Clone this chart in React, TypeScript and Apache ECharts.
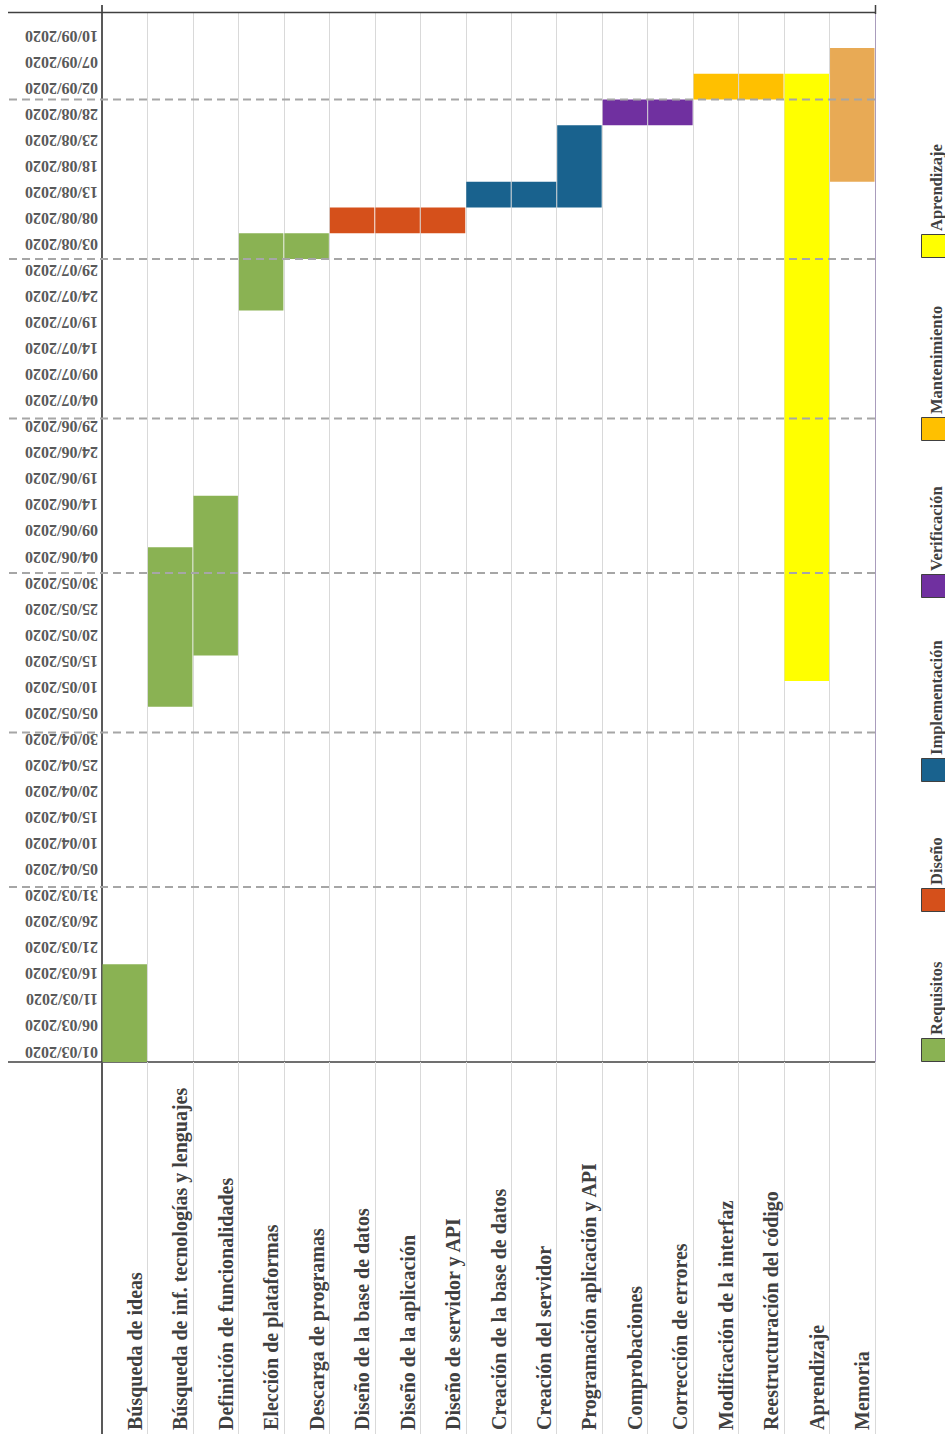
import React, { useEffect, useRef } from 'react';
import * as echarts from 'echarts';

// ---------- data ----------
const tasks = [
  'Búsqueda de ideas',
  'Búsqueda de inf. tecnologías y lenguajes',
  'Definición de funcionalidades',
  'Elección de plataformas',
  'Descarga de programas',
  'Diseño de la base de datos',
  'Diseño de la aplicación',
  'Diseño de servidor y API',
  'Creación de la base de datos',
  'Creación del servidor',
  'Programación aplicación y API',
  'Comprobaciones',
  'Corrección de errores',
  'Modificación de la interfaz',
  'Reestructuración del código',
  'Aprendizaje',
  'Memoria',
];
const taskPhases = [
  'Requisitos', 'Requisitos', 'Requisitos', 'Requisitos', 'Requisitos',
  'Diseño', 'Diseño', 'Diseño',
  'Implementación', 'Implementación', 'Implementación',
  'Verificación', 'Verificación',
  'Mantenimiento', 'Mantenimiento',
  'Aprendizaje',
  'Memoria',
];
const taskStarts = [
  '2020-02-27', '2020-05-06', '2020-05-16', '2020-07-22', '2020-08-01',
  '2020-08-06', '2020-08-06', '2020-08-06',
  '2020-08-11', '2020-08-11', '2020-08-11',
  '2020-08-27', '2020-08-27',
  '2020-09-01', '2020-09-01',
  '2020-05-11',
  '2020-08-16',
];
const taskEnds = [
  '2020-03-17', '2020-06-06', '2020-06-16', '2020-08-06', '2020-08-06',
  '2020-08-11', '2020-08-11', '2020-08-11',
  '2020-08-16', '2020-08-16', '2020-08-27',
  '2020-09-01', '2020-09-01',
  '2020-09-06', '2020-09-06',
  '2020-09-06',
  '2020-09-11',
];
const legendPhases = ['Requisitos', 'Diseño', 'Implementación', 'Verificación', 'Mantenimiento', 'Aprendizaje'];
const legendColors = ['#8AB253', '#D5501B', '#19628E', '#7030A0', '#FFC000', '#FFFF00'];
const otherPhases = ['Memoria'];
const otherColors = ['#E8AA55'];
const dateLabels = [
  '01/03/2020', '06/03/2020', '11/03/2020', '16/03/2020', '21/03/2020', '26/03/2020', '31/03/2020',
  '05/04/2020', '10/04/2020', '15/04/2020', '20/04/2020', '25/04/2020', '30/04/2020',
  '05/05/2020', '10/05/2020', '15/05/2020', '20/05/2020', '25/05/2020', '30/05/2020',
  '04/06/2020', '09/06/2020', '14/06/2020', '19/06/2020', '24/06/2020', '29/06/2020',
  '04/07/2020', '09/07/2020', '14/07/2020', '19/07/2020', '24/07/2020', '29/07/2020',
  '03/08/2020', '08/08/2020', '13/08/2020', '18/08/2020', '23/08/2020', '28/08/2020',
  '02/09/2020', '07/09/2020', '10/09/2020',
];
const monthStarts = ['2020-04-01', '2020-05-01', '2020-06-01', '2020-07-01', '2020-08-01', '2020-09-01'];
const axisMin = '2020-02-27';
const axisMax = '2020-09-18';

// ---------- layout / style ----------
const W = 945;
const H = 1434;
const FRAME_LEFT = 8;
const legendSquareTops = [1038, 888, 758, 574, 417, 234];
const SERIF = '"Liberation Serif", "DejaVu Serif", serif';

const ts = (s: string) => {
  const [y, m, d] = s.split('-').map(Number);
  return new Date(y, m - 1, d).getTime();
};

export default function App() {
  const ref = useRef<HTMLDivElement>(null);

  useEffect(() => {
    if (!ref.current) return;
    const chart = echarts.init(ref.current, null, { renderer: 'svg' });

    const allPhases = [...legendPhases, ...otherPhases];
    const allColors = [...legendColors, ...otherColors];

    const barSeries = allPhases.map((phase, pi) => ({
      type: 'custom',
      name: phase,
      xAxisIndex: 0,
      yAxisIndex: 0,
      clip: false,
      z: 2,
      encode: { x: 0, y: [1, 2] },
      data: tasks
        .map((_, i) => i)
        .filter((i) => taskPhases[i] === phase)
        .map((i) => [i, ts(taskStarts[i]), ts(taskEnds[i])]),
      renderItem: (params: any, api: any) => {
        const c = api.value(0);
        const s = api.coord([c, api.value(1)]);
        const e = api.coord([c, api.value(2)]);
        const w = api.size([1, 0])[0];
        return {
          type: 'rect',
          shape: { x: s[0] - w / 2 + 0.5, y: e[1], width: w - 1, height: s[1] - e[1] },
          style: { fill: allColors[pi] },
        };
      },
    }));

    const monthLineSeries = {
      type: 'custom',
      name: 'months',
      xAxisIndex: 0,
      yAxisIndex: 0,
      clip: false,
      silent: true,
      z: 5,
      encode: { x: 0, y: 1 },
      data: monthStarts.map((d) => [0, ts(d)]),
      renderItem: (params: any, api: any) => {
        const p = api.coord([0, api.value(1)]);
        const cs = params.coordSys;
        return {
          type: 'line',
          shape: { x1: FRAME_LEFT + 1, y1: p[1], x2: cs.x + cs.width, y2: p[1] },
          style: { stroke: '#A6A6A6', lineWidth: 2, lineDash: [8, 5] },
        };
      },
    };

    // tick labels of the date axis, drawn upside down (rotated 180°)
    const dateLabelSeries = {
      type: 'custom',
      name: 'dates',
      xAxisIndex: 1,
      yAxisIndex: 1,
      clip: false,
      silent: true,
      z: 5,
      encode: { x: 0, y: 1 },
      data: dateLabels.map((_, i) => [0, i]),
      renderItem: (params: any, api: any) => {
        const p = api.coord([0, api.value(1)]);
        const cs = params.coordSys;
        return {
          type: 'text',
          x: cs.x - 4,
          y: p[1],
          rotation: Math.PI,
          style: {
            text: dateLabels[params.dataIndex],
            x: 0,
            y: 0,
            textAlign: 'left',
            textVerticalAlign: 'middle',
            align: 'left',
            verticalAlign: 'middle',
            fill: '#595959',
            font: `bold 16px ${SERIF}`,
          },
        };
      },
    };

    const legendGraphics: any[] = [];
    legendPhases.forEach((p, i) => {
      legendGraphics.push({
        type: 'rect',
        z: 100,
        shape: { x: 921.5, y: legendSquareTops[i] + 0.5, width: 25, height: 23 },
        style: { fill: legendColors[i], stroke: '#404040', lineWidth: 1 },
      });
      legendGraphics.push({
        type: 'text',
        z: 100,
        x: 936,
        y: legendSquareTops[i] - 3,
        rotation: Math.PI / 2,
        style: {
          text: p,
          textAlign: 'left',
          textVerticalAlign: 'middle',
          align: 'left',
          verticalAlign: 'middle',
          fill: '#404040',
          font: `bold 16.5px ${SERIF}`,
        },
      });
    });

    const gridTop = 12;
    const gridBottomY = 1062;
    const gridLeft = 102;
    const gridRightX = 875;

    const frameLines = [
      { x1: FRAME_LEFT, y1: gridTop + 0.5, x2: gridRightX, y2: gridTop + 0.5, stroke: '#404040', w: 1.5 },
      { x1: FRAME_LEFT, y1: gridBottomY, x2: gridLeft, y2: gridBottomY, stroke: '#404040', w: 1.5 },
      { x1: gridLeft, y1: 5, x2: gridLeft, y2: gridTop, stroke: '#595959', w: 2 },
      { x1: gridLeft, y1: gridBottomY, x2: gridLeft, y2: H, stroke: '#595959', w: 2 },
      { x1: gridRightX + 0.5, y1: 5, x2: gridRightX + 0.5, y2: gridTop + 2, stroke: '#404040', w: 1.5 },
      { x1: gridRightX + 0.5, y1: gridTop + 2, x2: gridRightX + 0.5, y2: gridBottomY, stroke: '#A99CBC', w: 1 },
    ].map((l) => ({
      type: 'line',
      z: 50,
      silent: true,
      shape: { x1: l.x1, y1: l.y1, x2: l.x2, y2: l.y2 },
      style: { stroke: l.stroke, lineWidth: l.w },
    }));

    chart.setOption({
      animation: false,
      backgroundColor: '#ffffff',
      textStyle: { fontFamily: SERIF },
      grid: [
        {
          left: gridLeft,
          right: W - gridRightX,
          top: gridTop,
          bottom: H - gridBottomY,
          outerBoundsMode: 'none',
          containLabel: false,
        },
        {
          left: gridLeft,
          right: W - gridRightX,
          top: 36,
          bottom: H - 1052,
          outerBoundsMode: 'none',
          containLabel: false,
        },
      ],
      xAxis: [
        {
          type: 'category',
          gridIndex: 0,
          data: tasks,
          position: 'bottom',
          boundaryGap: true,
          axisLine: { show: true, lineStyle: { color: '#404040', width: 1.5 } },
          axisTick: { show: true, interval: 0, length: H - gridBottomY, lineStyle: { color: '#D9D9D9', width: 1 } },
          splitLine: { show: true, interval: 0, lineStyle: { color: '#D9D9D9', width: 1 } },
          axisLabel: {
            interval: 0,
            rotate: 90,
            margin: 368,
            align: 'left',
            verticalAlign: 'top',
            fontFamily: SERIF,
            fontWeight: 'bold',
            fontSize: 20,
            color: '#404040',
            hideOverlap: false,
          },
        },
        { type: 'value', gridIndex: 1, show: false, min: 0, max: 1 },
      ],
      yAxis: [
        {
          type: 'time',
          gridIndex: 0,
          min: ts(axisMin),
          max: ts(axisMax),
          axisLine: { show: true, lineStyle: { color: '#595959', width: 2 } },
          axisTick: { show: false },
          axisLabel: { show: false },
          splitLine: { show: false },
        },
        {
          type: 'category',
          gridIndex: 1,
          show: false,
          boundaryGap: false,
          data: dateLabels,
        },
      ],
      series: [...barSeries, monthLineSeries, dateLabelSeries],
      graphic: [...frameLines, ...legendGraphics],
    });

    return () => chart.dispose();
  }, []);

  return (
    <div
      ref={ref}
      style={{ position: 'absolute', left: 0, top: 0, width: W, height: H, background: '#fff' }}
    />
  );
}
